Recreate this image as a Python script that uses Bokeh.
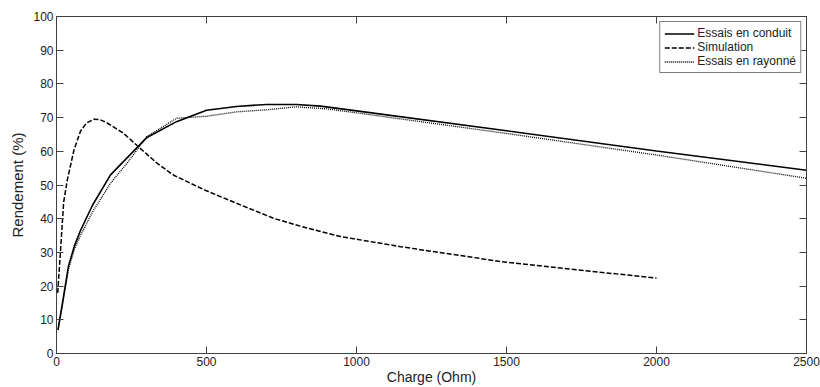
from bokeh.plotting import figure
from bokeh.models import LinearAxis, Range1d, Legend, LegendItem, FixedTicker
from bokeh.embed import file_html
from bokeh.resources import INLINE

# ---- data ----
x_conduit = [5, 20, 40, 60, 80, 120, 180, 240, 300, 400, 500, 600, 700, 800, 880, 1000, 1500, 2000, 2500]
y_conduit = [7, 15, 26, 32, 36.5, 44, 53, 58.5, 64, 68.8, 72.2, 73.3, 73.9, 73.9, 73.4, 72.0, 66.1, 60.1, 54.4]

x_sim = [4, 13, 24, 36, 58, 80, 100, 124, 145, 169, 224, 280, 336, 391, 494, 613, 724, 836, 947, 1147, 1480, 1813, 2000]
y_sim = [18, 30, 45, 51.5, 60.3, 66.0, 68.4, 69.5, 69.4, 68.4, 65.3, 60.8, 56.4, 52.9, 48.5, 44.1, 40.1, 37.2, 34.7, 31.7, 27.3, 24.1, 22.4]

x_ray = [5, 20, 40, 60, 80, 120, 180, 240, 300, 400, 500, 600, 700, 800, 900, 1000, 1500, 2000, 2500]
y_ray = [7, 14.5, 25, 31, 35, 42, 50.5, 57, 64.3, 69.8, 70.4, 71.7, 72.3, 73.2, 72.6, 71.4, 65.3, 58.9, 52.0]

x_ticks = [0, 500, 1000, 1500, 2000, 2500]
y_ticks = [0, 10, 20, 30, 40, 50, 60, 70, 80, 90, 100]

labels = ["Essais en conduit", "Simulation", "Essais en rayonné"]

FONT = "Liberation Sans"
AX = "#404040"
TXT = "#222222"

p = figure(width=820, height=387, x_range=Range1d(0, 2500), y_range=Range1d(0, 100),
           output_backend="svg", toolbar_location=None,
           min_border_left=56, min_border_right=14, min_border_top=16, min_border_bottom=33)

p.xgrid.visible = False
p.ygrid.visible = False
p.outline_line_color = AX
p.outline_line_width = 1
p.background_fill_color = "white"
p.border_fill_color = "white"

def style_axis(ax, ticks, show_labels=True):
    ax.ticker = FixedTicker(ticks=ticks)
    ax.major_tick_in = 7
    ax.major_tick_out = 0
    ax.minor_tick_in = 0
    ax.minor_tick_out = 0
    ax.axis_line_color = AX
    ax.major_tick_line_color = AX
    ax.major_label_text_font = FONT
    if show_labels:
        ax.major_label_text_color = TXT
        ax.major_label_text_font_size = "12px"
        ax.major_label_standoff = 3
    else:
        ax.major_label_text_color = None
        ax.major_label_text_font_size = "1px"
        ax.major_label_standoff = 0

style_axis(p.xaxis[0], x_ticks)
style_axis(p.yaxis[0], y_ticks)
p.xaxis.axis_label = "Charge (Ohm)"
p.yaxis.axis_label = "Rendement (%)"
p.xaxis.axis_label_text_font = FONT
p.yaxis.axis_label_text_font = FONT
p.xaxis.axis_label_text_font_size = "14px"
p.yaxis.axis_label_text_font_size = "15px"
p.xaxis.axis_label_text_font_style = "normal"
p.yaxis.axis_label_text_font_style = "normal"
p.xaxis.axis_label_text_color = TXT
p.yaxis.axis_label_text_color = TXT
p.xaxis.axis_label_standoff = 0
p.yaxis.axis_label_standoff = 4

ra = LinearAxis()
style_axis(ra, y_ticks, show_labels=False)
p.add_layout(ra, "right")
ta = LinearAxis()
style_axis(ta, x_ticks, show_labels=False)
p.add_layout(ta, "above")

r1 = p.line(x_conduit, y_conduit, line_color="black", line_width=1.6)
r2 = p.line(x_sim, y_sim, line_color="black", line_width=1.5, line_dash="5 2")
r3 = p.line(x_ray, y_ray, line_color="black", line_width=1.3, line_dash="1 1")

legend = Legend(items=[LegendItem(label=labels[0], renderers=[r1]),
                       LegendItem(label=labels[1], renderers=[r2]),
                       LegendItem(label=labels[2], renderers=[r3])],
                location="top_right")
legend.border_line_color = "black"
legend.border_line_width = 1
legend.background_fill_color = "white"
legend.background_fill_alpha = 1
legend.label_text_font = FONT
legend.label_text_font_size = "12px"
legend.label_text_color = TXT
legend.glyph_width = 30
legend.glyph_height = 13
legend.label_height = 13
legend.spacing = 0
legend.padding = 4
legend.margin = 5
legend.label_standoff = 3
p.add_layout(legend)

open("out.html", "w").write(file_html(p, INLINE))
